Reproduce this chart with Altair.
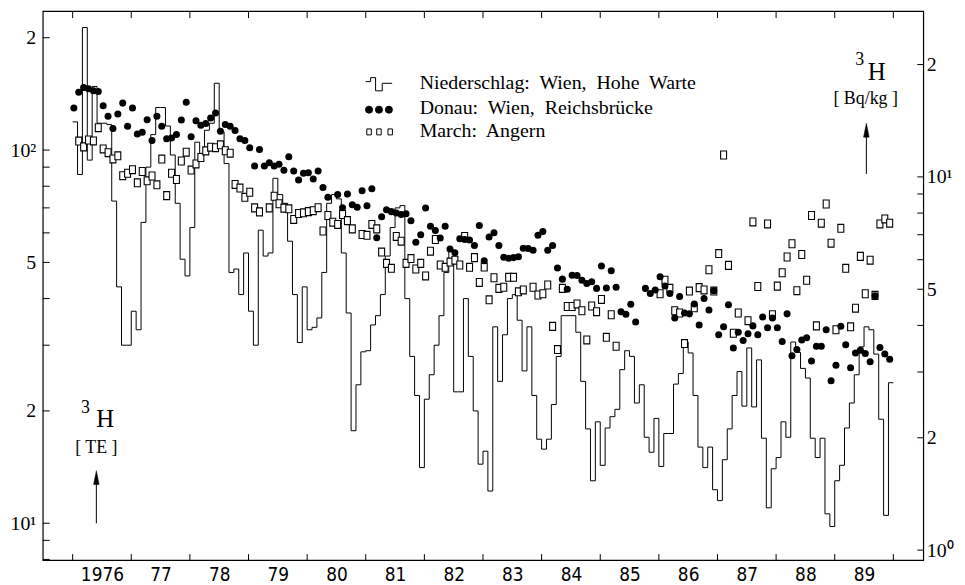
import altair as alt
import numpy as np
import pandas as pd

W, H = 887, 553

# Tritium (TE), monthly values, Jan 1976 ... Dec 1989
niederschlag = [
    119, 86, 213, 94, 148, 118, 118, 117, 73, 43, 30, 30,            # 1976
    37, 33, 64, 90, 110, 130, 130, 116, 97, 72, 51, 46,               # 1977
    62, 105, 98, 113, 118, 151, 112, 92, 47, 48, 41, 53,              # 1978
    37, 30, 61, 52, 53, 84, 76, 72, 57, 41, 30.5, 43,                 # 1979
    33, 33.5, 35.5, 47, 72, 76, 74, 53, 36.6, 17.7, 23.5, 28.8,       # 1980
    29, 34, 36, 41, 52, 62, 70, 71, 40, 28, 22, 14.1,                 # 1981
    21.5, 25, 30, 36, 47, 54, 22.5, 22.5, 40, 28, 20, 14.4,           # 1982
    15.6, 12.2, 33.6, 24, 32, 40, 41, 35, 25.6, 33.6, 22, 16.8,       # 1983
    15.8, 16.8, 20.8, 28, 36, 36, 36, 32.5, 24, 17.9, 13, 18.7,       # 1984
    14.3, 18, 19.3, 20.2, 25.8, 29, 28, 21, 23.5, 17, 15.5, 19.1,     # 1985
    14.2, 17.4, 17.4, 23.6, 25.2, 30.6, 28.6, 22, 16, 14.1, 16, 12.3, # 1986
    11.5, 14.8, 17.9, 22, 25.5, 20.6, 29.5, 20.5, 27.4, 16.9, 11, 14, # 1987
    15, 18.7, 17, 30.6, 28.7, 26, 24.5, 16.9, 15, 16.9, 10.6, 9.8,    # 1988
    13, 14.3, 18, 21, 25, 29.7, 33.6, 33, 28.4, 19, 10.5, 23.8,       # 1989
]

donau = [
    129.6, 142.9, 147.1, 145.9, 144.1, 143.5, 131.5, 123.2, 114.2, 124.9, 133.6, 115.8,  # 1976
    129.6, 110.4, 111.6, 120.6, 106.1, 123.2, 115.8, 107.2, 107.8, 110.1, 120.4, 134.4,  # 1977
    108.5, 119.9, 116.5, 117.8, 121.9, 125.7, 112.3, 117.1, 115.8, 112.8, 107.2, 106.1,  # 1978
    101.4, 90.7, 100.4, 90.7, 92.5, 90.7, 91.6, 88.3, 96.0, 87.9, 83.1, 86.7,            # 1979
    87.0, 83.6, 87.9, 79.4, 74.7, None, 76.0, 70.1, 76.2, 71.4, 70.3, 77.8,              # 1980
    70.9, 78.8, 58.2, 66.3, 69.2, 68.4, 67.8, 67.2, 67.5, 64.7, 56.6, 59.3,              # 1981
    69.9, 62.5, 60.9, 58.1, 62.5, 54.3, 53.1, 57.9, 57.6, 57.4, 55.5, 62.8,              # 1982
    50.5, 58.5, 60.0, 55.5, 51.6, 51.3, 51.5, 51.8, 54.6, 54.5, 53.9, 59.1,              # 1983
    60.5, 53.9, 55.5, 48.3, 45.1, 42.4, 46.2, 46.1, 44.8, 43.9, 44.4, 42.6,              # 1984
    48.9, 42.7, 47.5, 42.9, 36.9, 36.3, 38.6, 34.6, None, 42.6, 41.3, 42.2,              # 1985
    45.8, 43.2, 41.3, 35.5, 40.5, 36.6, 36.4, 38.7, 34.0, 40.0, 37.3, 42.0,              # 1986
    32.0, 33.6, 38.5, 29.5, 32.5, 30.9, 32.2, 33.8, 32.0, 35.7, 33.4, 35.5,              # 1987
    33.4, 30.7, 36.4, 28.1, 29.2, 31.0, 31.4, 27.2, 29.8, 29.8, 33.0, 24.1,              # 1988
    26.5, 33.7, 30.1, 26.1, 28.6, 29.1, 28.5, 27.1, 40.7, 29.6, 28.4, 27.5,              # 1989
]

march = [
    None, 105.7, 102.0, 106.4, 105.8, 114.8, 100.7, 98.4, 94.7, 96.5, 85.4, 86.7,        # 1976
    88.6, 81.7, 87.6, 82.7, 85.2, 80.7, 94.6, 75.5, 86.7, 83.4, 93.5, 98.7,              # 1977
    88.4, 91.8, 95.5, 99.5, 101.8, 101.5, 103.3, 99.6, 98.1, 80.9, 79.1, 74.7,           # 1978
    77.1, 70.0, 68.3, None, 70.0, 75.2, 71.8, 69.9, 69.6, 65.2, 67.6, 67.9,              # 1979
    68.4, 68.8, 70.1, 60.7, 66.8, 64.1, 63.2, 67.2, 64.7, 61.5, None, 59.4,              # 1980
    59.1, 63.2, 61.5, 53.3, 49.7, 48.2, 58.7, 57.0, 49.7, 51.2, 48.0, 49.7,              # 1981
    46.0, 53.6, 57.6, 49.2, 48.5, 50.1, 50.7, 49.2, 58.7, 48.5, 51.5, 44.2,              # 1982
    48.6, 39.7, 45.5, 42.6, 42.9, 45.6, 45.6, 41.7, 42.2, None, 42.9, 40.9,              # 1983
    41.2, 43.5, 33.7, 29.2, 42.6, 38.1, 38.1, 38.7, 37.1, 31.0, 38.2, 36.9,              # 1984
    39.8, 31.5, 36.2, 29.8, None, None, None, None, None, None, None, None,              # 1985
    41.2, 44.8, 42.6, 37.1, 36.6, 30.3, 41.9, 37.8, 42.8, 42.2, 47.8, 41.9,              # 1986
    52.8, 97.0, 49.1, 32.3, 36.6, None, 34.9, 64.2, 43.1, None, 63.4, 36.2,              # 1987
    43.2, 46.9, 51.7, 56.1, 42.0, 52.5, 44.8, 66.8, 33.8, 63.7, 71.7, 56.3,              # 1988
    33.0, 61.7, 48.2, 33.6, 37.7, 51.9, 41.2, 50.7, 40.8, 63.4, 65.4, 63.7,              # 1989
]

assert len(niederschlag) == len(donau) == len(march) == 168

year_ticks = list(range(1976, 1991))
year_label_pos = [y + 0.5 for y in range(1976, 1990)]
te_ticks = [8, 9, 10, 20, 30, 40, 50, 60, 70, 80, 90, 100, 200]
te_labels = [10, 20, 50, 100, 200]
bq_ticks = [1, 2, 3, 4, 5, 6, 7, 8, 9, 10, 20]
bq_labels = [1, 2, 5, 10, 20]
TE_TO_BQ = 0.118

te_dom = [7.97, 235.7]
xs = alt.Scale(domain=[1975.49, 1990.51], nice=False, zero=False)
ys = alt.Scale(type="log", domain=te_dom, nice=False)
ybq = alt.Scale(type="log", domain=[te_dom[0] * TE_TO_BQ, te_dom[1] * TE_TO_BQ], nice=False)

m = np.arange(168)
df_n = pd.DataFrame({"t": np.append(1976 + m / 12, 1990.0),
                     "te": niederschlag + [niederschlag[-1]]})
df_d = pd.DataFrame({"t": 1976 + (m + 0.25) / 12, "te": donau}).dropna()
df_m = pd.DataFrame({"t": 1976 + (m + 0.25) / 12, "te": march}).dropna()

SERIF = "Liberation Serif, Times New Roman, serif"
NARROW = "Liberation Sans Narrow, Arial Narrow, DejaVu Sans Condensed, sans-serif"

x_axis = alt.Axis(values=year_label_pos,
                  labelExpr="datum.value < 1977 ? '1976' : '' + (floor(datum.value) - 1900)",
                  ticks=False, domain=False, grid=False, title=None,
                  labelFont=NARROW, labelFontSize=19, labelPadding=6,
                  labelFlush=False, labelOverlap=False, labelColor="black")

left_axis = alt.Axis(orient="left", values=te_labels,
                     labelExpr="datum.value == 10 ? '10\u00b9' : (datum.value == 100 ? '10\u00b2' : (datum.value == 50 ? '5' : '2'))",
                     ticks=False, domain=False, grid=False, title=None,
                     labelFont=SERIF, labelFontSize=20, labelPadding=7,
                     labelOverlap=False, labelFlush=False, labelColor="black")

right_axis = alt.Axis(orient="right", values=bq_labels,
                      labelExpr="datum.value == 1 ? '10\u2070' : (datum.value == 10 ? '10\u00b9' : (datum.value == 5 ? '5' : '2'))",
                      ticks=False, domain=False, grid=False, title=None,
                      labelFont=SERIF, labelFontSize=20, labelPadding=3,
                      labelOverlap=False, labelFlush=False, labelColor="black")

X = alt.X("t:Q", scale=xs, axis=x_axis)

line = alt.Chart(df_n).mark_line(interpolate="step-after", color="black", strokeWidth=1).encode(
    x=X, y=alt.Y("te:Q", scale=ys, axis=left_axis))

SQ = "M -0.75 -1 L 0.75 -1 L 0.75 1 L -0.75 1 Z"
squares = alt.Chart(df_m).mark_point(shape=SQ, size=64, filled=True, fill="white",
                                     stroke="black", strokeWidth=1.1, opacity=1).encode(
    x=X, y=alt.Y("te:Q", scale=ys, axis=left_axis))

dots = alt.Chart(df_d).mark_circle(size=50, color="black", opacity=1).encode(
    x=X, y=alt.Y("te:Q", scale=ys, axis=left_axis))

lticks = alt.Chart(pd.DataFrame({"te": te_ticks})).mark_rule(color="black", strokeWidth=1).encode(
    y=alt.Y("te:Q", scale=ys, axis=left_axis), x=alt.value(0), x2=alt.value(7))

xt_top = alt.Chart(pd.DataFrame({"t": year_ticks})).mark_rule(color="black", strokeWidth=1).encode(
    x=X, y=alt.value(0), y2=alt.value(7))
xt_bot = alt.Chart(pd.DataFrame({"t": year_ticks})).mark_rule(color="black", strokeWidth=1).encode(
    x=X, y=alt.value(H - 6), y2=alt.value(H))

rticks = alt.Chart(pd.DataFrame({"b": bq_ticks})).mark_rule(color="black", strokeWidth=1).encode(
    y=alt.Y("b:Q", scale=ybq, axis=right_axis), x=alt.value(W - 6), x2=alt.value(W))


def txt(s, x, y, size, align="center", font=SERIF):
    return alt.Chart(pd.DataFrame({"s": [s]})).mark_text(
        fontSize=size, font=font, align=align, baseline="middle", color="black").encode(
        text="s:N", x=alt.value(x), y=alt.value(y))


def seg(x1, y1, x2, y2, w=1.0):
    return alt.Chart(pd.DataFrame({"a": [0]})).mark_rule(color="black", strokeWidth=w).encode(
        x=alt.value(x1), x2=alt.value(x2), y=alt.value(y1), y2=alt.value(y2))


def pt(x, y, shape, size, fill="black", sw=1.0):
    return alt.Chart(pd.DataFrame({"a": [0]})).mark_point(
        shape=shape, size=size, filled=True, fill=fill, stroke="black", strokeWidth=sw, opacity=1).encode(
        x=alt.value(x), y=alt.value(y))


NB = "\u00a0 "
ARROW = "M 0 -1 L 0.4 1 L -0.4 1 Z"
annot = [
    # left unit label
    txt("3", 43, 400, 18), txt("H", 63, 411, 25), txt("[ TE ]", 54, 440, 18),
    seg(54, 474, 54, 516), pt(54, 470, ARROW, 196, sw=0.5),
    # right unit label
    txt("3", 823, 49, 18), txt("H", 840, 61, 25), txt("[ Bq/kg ]", 829, 89, 18),
    seg(829.7, 124, 829.7, 164), pt(829.7, 120, ARROW, 196, sw=0.5),
    # legend
    txt("Niederschlag:" + NB + "Wien," + NB + "Hohe" + NB + "Warte", 379.7, 72.7, 20, align="left"),
    txt("Donau:" + NB + "Wien," + NB + "Reichsbrücke", 379.7, 97.7, 20, align="left"),
    txt("March:" + NB + "Angern", 379.7, 121.0, 20, align="left"),
    seg(325.3, 71, 330.3, 71), seg(330.3, 67, 330.3, 71), seg(330.3, 67, 335.3, 67),
    seg(335.3, 67, 335.3, 80.3), seg(335.3, 80.3, 342, 80.3), seg(342, 72.7, 342, 80.3),
    seg(342, 72.7, 352, 72.7),
    pt(328.7, 99.3, "circle", 50), pt(338.7, 99.3, "circle", 50), pt(348.7, 99.3, "circle", 50),
    pt(328.7, 121.7, SQ, 36, fill="white"), pt(338.7, 121.7, SQ, 36, fill="white"),
    pt(350.0, 121.7, SQ, 36, fill="white"),
]

te_layer = alt.layer(line, squares, dots, lticks, xt_top, xt_bot, *annot)

chart = alt.layer(te_layer, rticks).resolve_scale(y="independent").properties(
    width=W, height=H, autosize=alt.AutoSizeParams(type="none"),
    padding={"left": 35, "top": 1, "right": 34, "bottom": 22},
    background="white",
).configure_view(stroke="black", strokeWidth=1.2)

chart.save("out.html", embed_options={"renderer": "svg", "actions": False})
